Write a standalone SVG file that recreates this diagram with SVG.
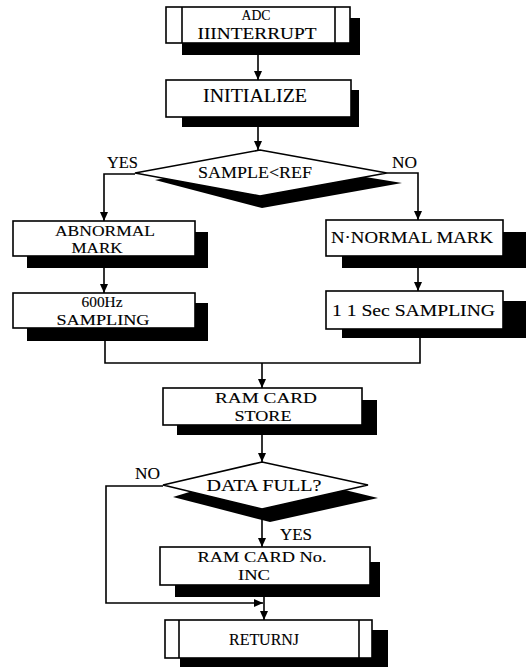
<svg xmlns="http://www.w3.org/2000/svg" width="526" height="667" viewBox="0 0 526 667">
<defs>
<marker id="ah" markerWidth="10" markerHeight="10" refX="9" refY="5" orient="auto" markerUnits="userSpaceOnUse">
<path d="M0,1 L9,5 L0,9 Z" fill="#000"/>
</marker>
</defs>
<style>
.box{fill:#fff;stroke:#000;stroke-width:1.6}
.sh{fill:#000}
.ln{fill:none;stroke:#000;stroke-width:1.6}
.c{stroke:#000;stroke-width:1.6;fill:none}
text{font-family:"Liberation Serif","Times New Roman",serif;font-size:17px;fill:#000;stroke:#000;stroke-width:0.12}
.m{text-anchor:middle}
.t{font-size:15px}
.l{font-size:16px}
</style>
<rect width="526" height="667" fill="#fff" stroke="none"/>
<g id="connectors">
<path class="c" d="M258,55 L258,80" marker-end="url(#ah)"/>
<path class="c" d="M258,127 L258,150" marker-end="url(#ah)"/>
<path class="c" d="M135,174 L104,174 L104,221" marker-end="url(#ah)"/>
<path class="c" d="M387,173 L418,173 L418,220" marker-end="url(#ah)"/>
<path class="c" d="M104,268 L104,293" marker-end="url(#ah)"/>
<path class="c" d="M418,268 L418,291" marker-end="url(#ah)"/>
<path class="c" d="M105,341 L105,363 L420,363 L420,338"/>
<path class="c" d="M262,363 L262,388" marker-end="url(#ah)"/>
<path class="c" d="M262,435 L262,462" marker-end="url(#ah)"/>
<path class="c" d="M262,509 L262,547" marker-end="url(#ah)"/>
<path class="c" d="M163,486 L106,486 L106,603 L263,603" marker-end="url(#ah)"/>
<path class="c" d="M264,597 L264,620" marker-end="url(#ah)"/>
<text class="l" x="107" y="168" textLength="31" lengthAdjust="spacingAndGlyphs">YES</text>
<text class="l" x="392" y="168" textLength="25" lengthAdjust="spacingAndGlyphs">NO</text>
<text class="l" x="135" y="479" textLength="25" lengthAdjust="spacingAndGlyphs">NO</text>
<text class="l" x="280" y="540" textLength="32" lengthAdjust="spacingAndGlyphs">YES</text>
</g>
<g id="adc-interrupt">
<rect class="sh" x="182" y="18" width="178" height="37"/>
<rect class="box" x="166" y="7" width="184" height="36"/>
<line class="ln" x1="182" y1="7" x2="182" y2="43"/>
<line class="ln" x1="335" y1="7" x2="335" y2="43"/>
<text class="m t" x="256" y="20" textLength="29" lengthAdjust="spacingAndGlyphs">ADC</text>
<text class="m" x="257" y="39" textLength="119" lengthAdjust="spacingAndGlyphs">IIINTERRUPT</text>
</g>
<g id="initialize">
<rect class="sh" x="182" y="90" width="177" height="37"/>
<rect class="box" x="166" y="80" width="185" height="37"/>
<text class="m" x="255" y="102" style="font-size:18px" textLength="104" lengthAdjust="spacingAndGlyphs">INITIALIZE</text>
</g>
<g id="sample-ref">
<polygon class="sh" points="155,180 262,208 402,183 262,160"/>
<polygon class="box" points="260,150 387,173 260,196 135,173"/>
<text class="m" x="255" y="178" textLength="114" lengthAdjust="spacingAndGlyphs">SAMPLE&lt;REF</text>
</g>
<g id="abnormal-mark">
<rect class="sh" x="27" y="232" width="181" height="36"/>
<rect class="box" x="13" y="221" width="182" height="35"/>
<text class="m t" x="105" y="236" textLength="100" lengthAdjust="spacingAndGlyphs">ABNORMAL</text>
<text class="m t" x="97" y="253" textLength="51" lengthAdjust="spacingAndGlyphs">MARK</text>
</g>
<g id="normal-mark">
<rect class="sh" x="342" y="232" width="184" height="36"/>
<rect class="box" x="326" y="220" width="177" height="36"/>
<text x="331" y="243" textLength="162" lengthAdjust="spacingAndGlyphs">N·NORMAL MARK</text>
</g>
<g id="sampling-600hz">
<rect class="sh" x="27" y="303" width="181" height="38"/>
<rect class="box" x="13" y="293" width="182" height="35"/>
<text class="m t" x="102" y="307" textLength="41" lengthAdjust="spacingAndGlyphs">600Hz</text>
<text class="m t" x="103" y="325" textLength="93" lengthAdjust="spacingAndGlyphs">SAMPLING</text>
</g>
<g id="sampling-1sec">
<rect class="sh" x="342" y="301" width="184" height="37"/>
<rect class="box" x="326" y="291" width="177" height="38"/>
<text x="332" y="316" textLength="163" lengthAdjust="spacingAndGlyphs">1 1 Sec SAMPLING</text>
</g>
<g id="ram-card-store">
<rect class="sh" x="177" y="400" width="200" height="35"/>
<rect class="box" x="163" y="388" width="199" height="37"/>
<text class="m t" x="266" y="403" textLength="102" lengthAdjust="spacingAndGlyphs">RAM CARD</text>
<text class="m t" x="263" y="421" textLength="57" lengthAdjust="spacingAndGlyphs">STORE</text>
</g>
<g id="data-full">
<polygon class="sh" points="173,497 270,522 378,498 262,470"/>
<polygon class="box" points="262,462 368,485 262,509 163,485"/>
<text class="m" x="264" y="491" textLength="115" lengthAdjust="spacingAndGlyphs">DATA FULL?</text>
</g>
<g id="ram-card-no-inc">
<rect class="sh" x="175" y="562" width="205" height="35"/>
<rect class="box" x="160" y="547" width="210" height="38"/>
<text class="m t" x="262" y="562" textLength="129" lengthAdjust="spacingAndGlyphs">RAM CARD No.</text>
<text class="m t" x="254" y="580" textLength="32" lengthAdjust="spacingAndGlyphs">INC</text>
</g>
<g id="return">
<rect class="sh" x="180" y="630" width="208" height="37"/>
<rect class="box" x="165" y="620" width="207" height="38"/>
<line class="ln" x1="179" y1="620" x2="179" y2="658"/>
<line class="ln" x1="359" y1="620" x2="359" y2="658"/>
<text class="m" x="264" y="645" textLength="70" lengthAdjust="spacingAndGlyphs">RETURNJ</text>
</g>
</svg>
